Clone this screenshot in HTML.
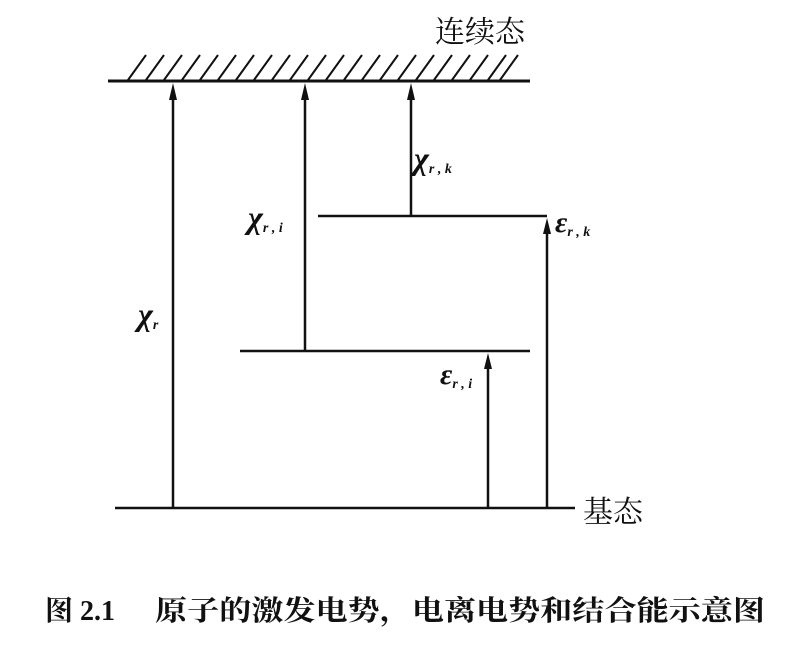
<!DOCTYPE html>
<html><head><meta charset="utf-8"><style>
body{margin:0;background:#fff;}
svg{display:block}
text{font-family:"Liberation Serif","Noto Serif CJK SC",serif;fill:#111}
.cn{font-family:"Liberation Serif","Noto Serif CJK SC","Noto Sans CJK SC",serif}
.m{font-style:italic;font-weight:bold}
</style></head><body>
<svg width="790" height="660" viewBox="0 0 790 660">
<g stroke="#111" stroke-width="2.5" fill="none">
<line x1="108" y1="81" x2="530" y2="81" stroke-width="3"/>
<g stroke-width="2">
<path d="M128 80 L146 55 M146 80 L164 55 M164 80 L182 55 M182 80 L200 55 M200 80 L218 55 M218 80 L236 55 M236 80 L254 55 M254 80 L272 55 M272 80 L290 55 M290 80 L308 55 M308 80 L326 55 M326 80 L344 55 M344 80 L362 55 M362 80 L380 55 M380 80 L398 55 M398 80 L416 55 M416 80 L434 55 M434 80 L452 55 M452 80 L470 55 M470 80 L488 55 M488 80 L506 55 M500 80 L518 55"/>
</g>
<line x1="318" y1="216" x2="547" y2="216"/>
<line x1="240" y1="351" x2="530" y2="351"/>
<line x1="115" y1="508" x2="575" y2="508"/>
<line x1="173" y1="508" x2="173" y2="90"/>
<line x1="305" y1="351" x2="305" y2="90"/>
<line x1="411" y1="216" x2="411" y2="90"/>
<line x1="547" y1="508" x2="547" y2="228"/>
<line x1="488" y1="508" x2="488" y2="362"/>
</g>
<g fill="#111">
<path d="M173 83 L169 100 L177 100Z"/>
<path d="M305 83 L301 100 L309 100Z"/>
<path d="M411 83 L407 100 L415 100Z"/>
<path d="M547 218 L543 234 L551 234Z"/>
<path d="M488 353 L484 369 L492 369Z"/>
</g>
<text class="cn" x="435" y="42" font-size="30">连续态</text>
<text class="cn" x="583" y="522" font-size="30">基态</text>
<text class="m" x="138" y="325" font-size="32">χ<tspan font-size="14" dy="4">r</tspan></text>
<text class="m" x="248" y="228" font-size="32">χ<tspan font-size="14" dy="4">r , i</tspan></text>
<text class="m" x="414" y="169" font-size="32">χ<tspan font-size="14" dy="4">r , k</tspan></text>
<text class="m" x="555" y="232" font-size="30">ε<tspan font-size="14" dy="4">r , k</tspan></text>
<text class="m" x="440" y="384" font-size="30">ε<tspan font-size="14" dy="4">r , i</tspan></text>
<text class="cn" x="45" y="620" font-size="28" font-weight="bold">图 2.1</text>
<text class="cn" x="155" y="620" font-size="28" font-weight="bold" textLength="610" lengthAdjust="spacingAndGlyphs">原子的激发电势，电离电势和结合能示意图</text>
</svg>
</body></html>
